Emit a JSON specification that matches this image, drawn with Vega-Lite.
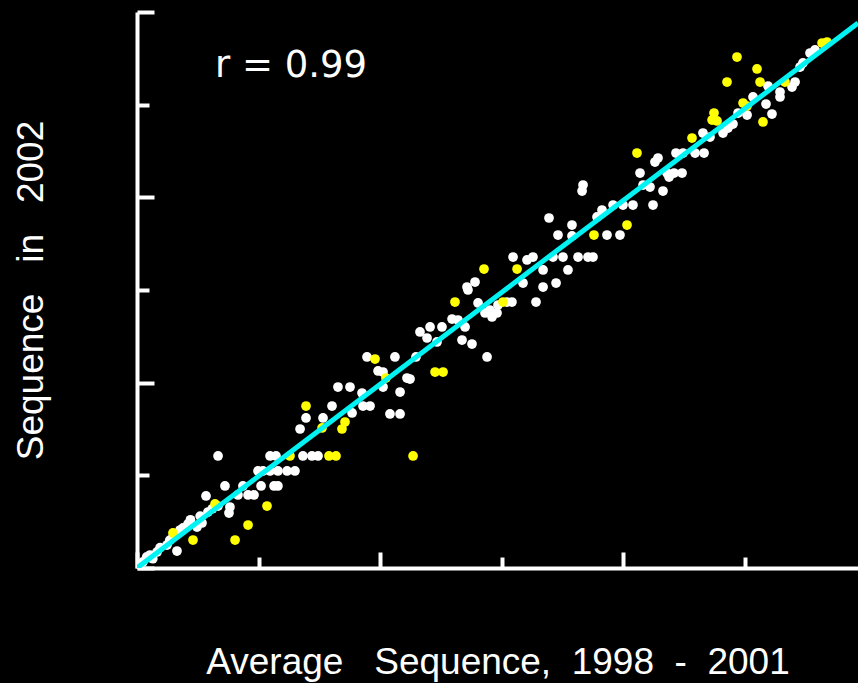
{
  "$schema": "https://vega.github.io/schema/vega-lite/v6.json",
  "width": 721,
  "height": 556,
  "autosize": {"type": "none"},
  "padding": {"left": 137, "top": 12, "right": 0, "bottom": 115},
  "background": "black",
  "config": {
    "view": {"stroke": null},
    "axis": {
      "grid": false,
      "labels": false,
      "domainColor": "white",
      "domainWidth": 4,
      "tickColor": "white",
      "tickWidth": 4,
      "titleColor": "white",
      "titleFont": "Liberation Sans",
      "titleFontSize": 37,
      "titleFontWeight": "normal"
    }
  },
  "datasets": {
    "pts": [
      {"x":0.049,"y":0.065,"g":"w"},{"x":0.107,"y":0.140,"g":"w"},{"x":0.165,"y":0.173,"g":"w"},{"x":0.247,"y":0.248,"g":"w"},
      {"x":0.329,"y":0.183,"g":"w"},{"x":0.379,"y":0.432,"g":"w"},{"x":0.420,"y":0.475,"g":"w"},{"x":0.494,"y":0.442,"g":"w"},
      {"x":0.535,"y":0.486,"g":"w"},{"x":0.354,"y":0.410,"g":"w"},{"x":0.568,"y":0.777,"g":"w"},{"x":0.584,"y":0.604,"g":"w"},
      {"x":0.190,"y":0.220,"g":"w"},{"x":0.270,"y":0.300,"g":"w"},{"x":0.300,"y":0.350,"g":"w"},{"x":0.440,"y":0.520,"g":"w"},
      {"x":0.080,"y":0.120,"g":"w"},{"x":0.130,"y":0.100,"g":"w"},{"x":0.520,"y":0.560,"g":"w"},{"x":0.620,"y":0.640,"g":"w"},
      {"x":0.667,"y":0.669,"g":"w"},{"x":0.757,"y":0.593,"g":"w"},{"x":0.765,"y":0.658,"g":"w"},{"x":0.831,"y":0.788,"g":"w"},
      {"x":0.914,"y":0.788,"g":"w"},{"x":0.963,"y":0.788,"g":"w"},{"x":0.724,"y":0.885,"g":"w"},{"x":0.872,"y":0.885,"g":"w"},
      {"x":1.021,"y":0.885,"g":"w"},{"x":1.128,"y":0.885,"g":"w"},{"x":1.160,"y":0.885,"g":"w"},{"x":0.667,"y":1.209,"g":"w"},
      {"x":0.996,"y":1.047,"g":"w"},{"x":1.037,"y":1.047,"g":"w"},{"x":1.095,"y":1.047,"g":"w"},{"x":1.160,"y":1.047,"g":"w"},
      {"x":1.235,"y":1.047,"g":"w"},{"x":1.300,"y":1.047,"g":"w"},{"x":1.095,"y":1.209,"g":"w"},{"x":1.144,"y":1.209,"g":"w"},
      {"x":1.366,"y":1.209,"g":"w"},{"x":1.440,"y":1.209,"g":"w"},{"x":1.490,"y":1.209,"g":"w"},{"x":1.342,"y":1.500,"g":"w"},
      {"x":1.391,"y":1.619,"g":"w"},{"x":1.531,"y":1.619,"g":"w"},{"x":1.605,"y":1.748,"g":"w"},{"x":1.654,"y":1.953,"g":"w"},
      {"x":1.753,"y":1.953,"g":"w"},{"x":1.852,"y":1.888,"g":"w"},{"x":1.860,"y":1.748,"g":"w"},{"x":1.918,"y":1.748,"g":"w"},
      {"x":1.770,"y":1.673,"g":"w"},{"x":2.082,"y":1.662,"g":"w"},{"x":2.165,"y":1.662,"g":"w"},{"x":1.893,"y":2.277,"g":"w"},
      {"x":1.984,"y":2.126,"g":"w"},{"x":2.025,"y":2.115,"g":"w"},{"x":2.025,"y":1.953,"g":"w"},{"x":2.123,"y":2.277,"g":"w"},
      {"x":2.296,"y":2.277,"g":"w"},{"x":2.222,"y":2.050,"g":"w"},{"x":2.247,"y":2.039,"g":"w"},{"x":2.165,"y":1.899,"g":"w"},
      {"x":2.329,"y":2.547,"g":"w"},{"x":2.412,"y":2.601,"g":"w"},{"x":2.510,"y":2.601,"g":"w"},{"x":2.387,"y":2.482,"g":"w"},
      {"x":2.469,"y":2.439,"g":"w"},{"x":2.593,"y":2.687,"g":"w"},{"x":2.642,"y":2.676,"g":"w"},{"x":2.700,"y":2.601,"g":"w"},
      {"x":2.675,"y":2.460,"g":"w"},{"x":2.757,"y":2.417,"g":"w"},{"x":2.881,"y":2.277,"g":"w"},{"x":2.716,"y":3.032,"g":"w"},
      {"x":2.782,"y":3.086,"g":"w"},{"x":2.807,"y":2.860,"g":"w"},{"x":2.724,"y":3.000,"g":"w"},{"x":2.905,"y":2.784,"g":"w"},
      {"x":2.963,"y":2.752,"g":"w"},{"x":2.864,"y":2.752,"g":"w"},{"x":2.922,"y":2.709,"g":"w"},{"x":2.971,"y":2.838,"g":"w"},
      {"x":3.045,"y":2.870,"g":"w"},{"x":3.086,"y":2.870,"g":"w"},{"x":3.095,"y":3.356,"g":"w"},{"x":3.210,"y":3.324,"g":"w"},
      {"x":3.259,"y":3.356,"g":"w"},{"x":3.424,"y":3.356,"g":"w"},{"x":3.506,"y":3.356,"g":"w"},{"x":3.630,"y":3.356,"g":"w"},
      {"x":3.712,"y":3.356,"g":"w"},{"x":3.753,"y":3.356,"g":"w"},{"x":3.177,"y":3.075,"g":"w"},{"x":3.342,"y":3.032,"g":"w"},
      {"x":3.449,"y":3.075,"g":"w"},{"x":3.284,"y":2.870,"g":"w"},{"x":3.342,"y":3.216,"g":"w"},{"x":3.547,"y":3.216,"g":"w"},
      {"x":3.391,"y":3.777,"g":"w"},{"x":3.580,"y":3.701,"g":"w"},{"x":3.465,"y":3.593,"g":"w"},{"x":3.580,"y":3.583,"g":"w"},
      {"x":3.868,"y":3.593,"g":"w"},{"x":3.975,"y":3.593,"g":"w"},{"x":3.786,"y":3.788,"g":"w"},{"x":3.827,"y":3.863,"g":"w"},
      {"x":3.918,"y":3.917,"g":"w"},{"x":4.000,"y":3.917,"g":"w"},{"x":4.082,"y":3.917,"g":"w"},{"x":4.247,"y":3.917,"g":"w"},
      {"x":3.671,"y":4.133,"g":"w"},{"x":3.663,"y":4.068,"g":"w"},{"x":4.165,"y":4.133,"g":"w"},{"x":4.222,"y":4.111,"g":"w"},
      {"x":4.329,"y":4.068,"g":"w"},{"x":4.140,"y":4.262,"g":"w"},{"x":4.362,"y":4.262,"g":"w"},{"x":4.420,"y":4.262,"g":"w"},
      {"x":4.486,"y":4.262,"g":"w"},{"x":4.379,"y":4.219,"g":"w"},{"x":4.288,"y":4.424,"g":"w"},{"x":4.263,"y":4.381,"g":"w"},
      {"x":4.436,"y":4.478,"g":"w"},{"x":4.494,"y":4.478,"g":"w"},{"x":4.593,"y":4.478,"g":"w"},{"x":4.667,"y":4.478,"g":"w"},
      {"x":4.658,"y":4.694,"g":"w"},{"x":4.716,"y":4.651,"g":"w"},{"x":4.823,"y":4.694,"g":"w"},{"x":4.905,"y":4.791,"g":"w"},
      {"x":4.947,"y":4.910,"g":"w"},{"x":5.021,"y":4.888,"g":"w"},{"x":5.070,"y":5.083,"g":"w"},{"x":5.177,"y":5.007,"g":"w"},
      {"x":5.226,"y":4.899,"g":"w"},{"x":5.193,"y":5.201,"g":"w"},{"x":5.292,"y":5.136,"g":"w"},{"x":5.292,"y":5.083,"g":"w"},
      {"x":5.391,"y":5.190,"g":"w"},{"x":5.416,"y":5.244,"g":"w"},{"x":5.457,"y":5.406,"g":"w"},{"x":5.481,"y":5.450,"g":"w"},
      {"x":5.539,"y":5.557,"g":"w"},{"x":5.580,"y":5.590,"g":"w"},{"x":4.864,"y":4.748,"g":"w"},
      {"x":0.296,"y":0.378,"g":"y"},{"x":0.461,"y":0.302,"g":"y"},{"x":0.642,"y":0.691,"g":"y"},{"x":0.807,"y":0.302,"g":"y"},
      {"x":0.914,"y":0.464,"g":"y"},{"x":1.070,"y":0.669,"g":"y"},{"x":1.259,"y":1.209,"g":"y"},{"x":1.580,"y":1.209,"g":"y"},
      {"x":1.638,"y":1.209,"g":"y"},{"x":1.391,"y":1.748,"g":"y"},{"x":1.523,"y":1.511,"g":"y"},{"x":1.712,"y":1.575,"g":"y"},
      {"x":1.687,"y":1.500,"g":"y"},{"x":1.959,"y":2.255,"g":"y"},{"x":2.049,"y":2.050,"g":"y"},{"x":2.272,"y":1.209,"g":"y"},
      {"x":2.453,"y":2.115,"g":"y"},{"x":2.519,"y":2.115,"g":"y"},{"x":2.617,"y":2.870,"g":"y"},{"x":3.012,"y":2.870,"g":"y"},
      {"x":2.856,"y":3.226,"g":"y"},{"x":3.128,"y":3.226,"g":"y"},{"x":3.761,"y":3.593,"g":"y"},{"x":4.033,"y":3.701,"g":"y"},
      {"x":4.115,"y":4.478,"g":"y"},{"x":4.568,"y":4.640,"g":"y"},{"x":4.749,"y":4.910,"g":"y"},{"x":4.733,"y":4.834,"g":"y"},
      {"x":4.774,"y":4.824,"g":"y"},{"x":4.988,"y":5.018,"g":"y"},{"x":5.021,"y":4.985,"g":"y"},{"x":5.152,"y":4.813,"g":"y"},
      {"x":4.856,"y":5.244,"g":"y"},{"x":4.938,"y":5.514,"g":"y"},{"x":5.103,"y":5.385,"g":"y"},{"x":5.128,"y":5.244,"g":"y"},
      {"x":5.333,"y":5.244,"g":"y"},{"x":5.638,"y":5.665,"g":"y"},{"x":5.679,"y":5.676,"g":"y"}
    ],
    "fit": [{"x": 0, "y": 0}, {"x": 5.934, "y": 5.881}],
    "label": [{"x": 0.642, "y": 5.298, "t": "r = 0.99"}]
  },
  "layer": [
    {
      "data": {"name": "pts"},
      "mark": {"type": "circle", "size": 95, "opacity": 1},
      "encoding": {
        "x": {
          "field": "x", "type": "quantitative",
          "scale": {"domain": [0, 5.934], "nice": false, "zero": false},
          "axis": {
            "values": [0, 1, 2, 3, 4, 5],
            "title": "Average\u00a0\u00a0\u00a0Sequence,\u00a0\u00a01998\u00a0\u00a0-\u00a0\u00a02001",
            "titlePadding": 74,
            "tickSize": {"condition": {"test": "datum.value % 2 === 0", "value": -16}, "value": -11}
          }
        },
        "y": {
          "field": "y", "type": "quantitative",
          "scale": {"domain": [0, 6], "nice": false, "zero": false},
          "axis": {
            "values": [0, 1, 2, 3, 4, 5, 6],
            "title": "Sequence\u00a0\u00a0\u00a0in\u00a0\u00a0\u00a02002",
            "titlePadding": 85,
            "tickSize": {"condition": {"test": "datum.value % 2 === 0", "value": -17}, "value": -12}
          }
        },
        "color": {
          "field": "g", "type": "nominal",
          "scale": {"domain": ["w", "y"], "range": ["#ffffff", "#ffff00"]},
          "legend": null
        }
      }
    },
    {
      "data": {"name": "fit"},
      "mark": {"type": "line", "color": "#00f2f2", "strokeWidth": 5, "clip": true},
      "encoding": {
        "x": {"field": "x", "type": "quantitative"},
        "y": {"field": "y", "type": "quantitative"}
      }
    },
    {
      "data": {"name": "label"},
      "mark": {"type": "text", "align": "left", "baseline": "alphabetic", "font": "DejaVu Sans", "fontSize": 37, "color": "white"},
      "encoding": {
        "x": {"field": "x", "type": "quantitative"},
        "y": {"field": "y", "type": "quantitative"},
        "text": {"field": "t"}
      }
    }
  ]
}
